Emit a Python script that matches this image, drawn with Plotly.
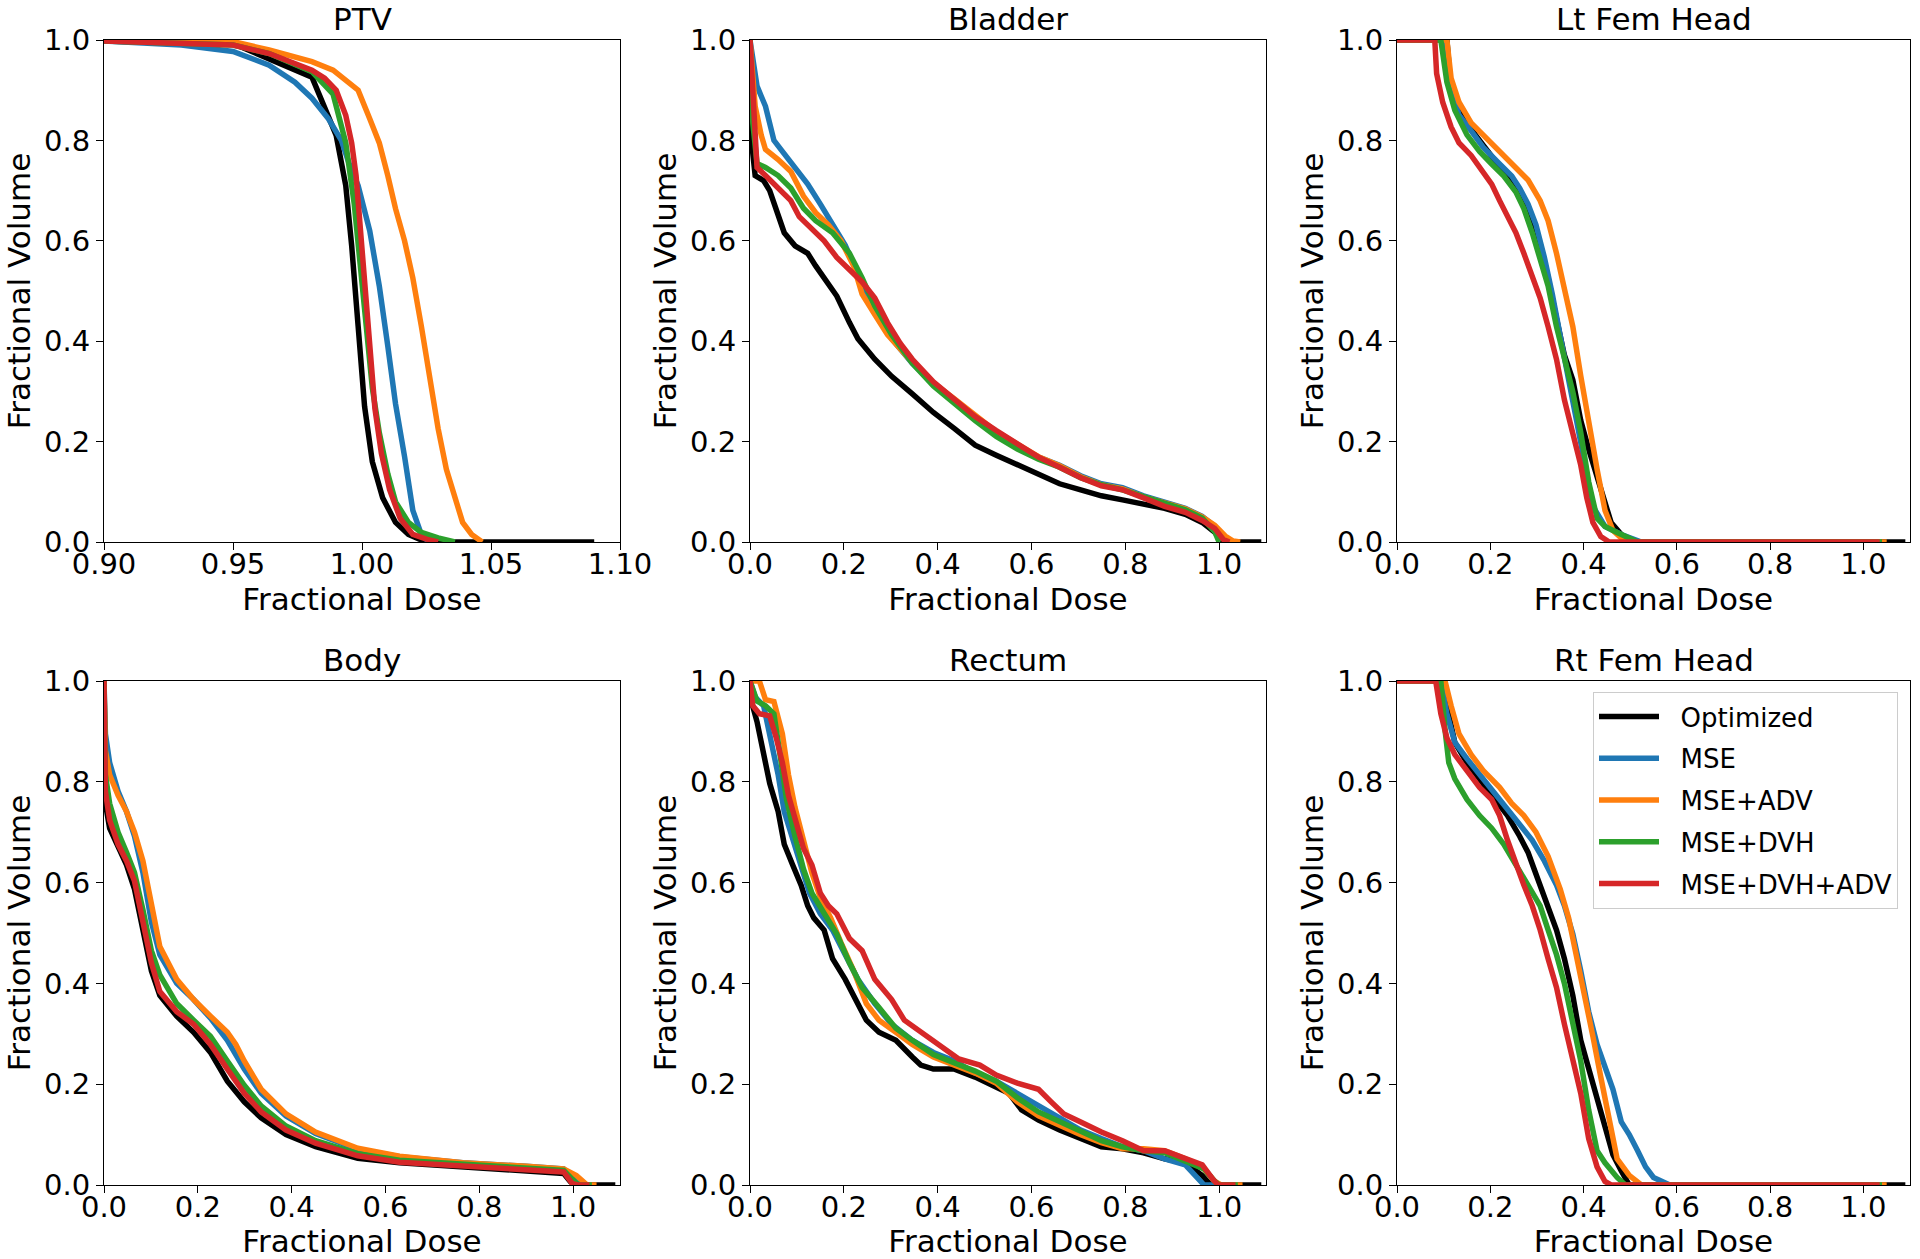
import plotly.graph_objects as go
from plotly.subplots import make_subplots

# ---- series names / colours
names = ["Optimized", "MSE", "MSE+ADV", "MSE+DVH", "MSE+DVH+ADV"]
colors = ["#000000", "#1f77b4", "#ff7f0e", "#2ca02c", "#d62728"]
organs = ["PTV", "Bladder", "Lt Fem Head", "Body", "Rectum", "Rt Fem Head"]

# ---- PTV
ptv_opt_x = [0.90, 0.95, 0.9806, 0.990, 0.9937, 0.996, 0.9985, 1.001, 1.004, 1.008, 1.013, 1.018, 1.023, 1.03, 1.09]
ptv_opt_y = [0.998, 0.993, 0.926, 0.81, 0.71, 0.59, 0.43, 0.27, 0.16, 0.088, 0.039, 0.015, 0.004, 0.0, 0.0]
ptv_mse_x = [0.90, 0.93, 0.95, 0.964, 0.974, 0.9806, 0.987, 0.992, 0.995, 0.9985, 1.003, 1.0067, 1.010, 1.013, 1.0165, 1.0197, 1.023, 1.026]
ptv_mse_y = [0.998, 0.99, 0.977, 0.95, 0.916, 0.884, 0.843, 0.80, 0.754, 0.71, 0.62, 0.51, 0.39, 0.275, 0.17, 0.063, 0.015, 0.0]
ptv_adv_x = [0.90, 0.95, 0.964, 0.9806, 0.9888, 0.995, 0.9985, 1.003, 1.0067, 1.010, 1.013, 1.0165, 1.0197, 1.023, 1.026, 1.0295, 1.0327, 1.036, 1.039, 1.0425, 1.0466]
ptv_adv_y = [1.0, 0.997, 0.98, 0.957, 0.94, 0.916, 0.90, 0.843, 0.795, 0.73, 0.664, 0.60, 0.526, 0.43, 0.33, 0.226, 0.145, 0.088, 0.039, 0.015, 0.0]
ptv_dvh_x = [0.90, 0.95, 0.964, 0.9806, 0.9888, 0.9937, 0.997, 0.9993, 1.0018, 1.004, 1.0067, 1.010, 1.013, 1.018, 1.023, 1.0295, 1.036]
ptv_dvh_y = [0.998, 0.99, 0.973, 0.937, 0.892, 0.795, 0.673, 0.55, 0.41, 0.307, 0.218, 0.136, 0.08, 0.039, 0.019, 0.008, 0.0]
ptv_dvhadv_x = [0.90, 0.95, 0.964, 0.9806, 0.9855, 0.990, 0.9937, 0.996, 0.9977, 0.9993, 1.001, 1.0026, 1.005, 1.0075, 1.0107, 1.0148, 1.0197, 1.026, 1.0295]
ptv_dvhadv_y = [0.998, 0.99, 0.973, 0.94, 0.924, 0.90, 0.85, 0.795, 0.73, 0.624, 0.51, 0.39, 0.266, 0.177, 0.104, 0.047, 0.015, 0.004, 0.0]

# ---- Bladder
bla_opt_x = [0, 0.003, 0.011, 0.029, 0.042, 0.06, 0.073, 0.096, 0.123, 0.14, 0.163, 0.185, 0.212, 0.23, 0.266, 0.302, 0.346, 0.391, 0.436, 0.48, 0.525, 0.57, 0.615, 0.66, 0.705, 0.749, 0.794, 0.839, 0.884, 0.928, 0.964, 0.991, 1.009, 1.02, 1.09]
bla_opt_y = [1.0, 0.80, 0.73, 0.72, 0.70, 0.65, 0.616, 0.59, 0.575, 0.55, 0.518, 0.49, 0.437, 0.405, 0.364, 0.33, 0.295, 0.258, 0.226, 0.193, 0.173, 0.153, 0.136, 0.116, 0.104, 0.092, 0.084, 0.076, 0.067, 0.055, 0.039, 0.019, 0.002, 0.0, 0.0]
bla_mse_x = [0, 0.015, 0.033, 0.051, 0.069, 0.096, 0.123, 0.15, 0.176, 0.203, 0.23, 0.252, 0.275, 0.302, 0.346, 0.391, 0.436, 0.48, 0.525, 0.57, 0.615, 0.66, 0.705, 0.749, 0.794, 0.839, 0.884, 0.928, 0.964, 0.991, 1.013, 1.027]
bla_mse_y = [1.0, 0.908, 0.868, 0.80, 0.778, 0.746, 0.713, 0.673, 0.632, 0.591, 0.535, 0.486, 0.445, 0.405, 0.356, 0.315, 0.283, 0.25, 0.218, 0.193, 0.169, 0.153, 0.132, 0.116, 0.108, 0.092, 0.08, 0.067, 0.051, 0.031, 0.006, 0.0]
bla_adv_x = [0, 0.011, 0.024, 0.033, 0.06, 0.087, 0.114, 0.14, 0.167, 0.194, 0.221, 0.239, 0.266, 0.293, 0.346, 0.391, 0.436, 0.48, 0.525, 0.57, 0.615, 0.66, 0.705, 0.749, 0.794, 0.839, 0.884, 0.928, 0.964, 0.991, 1.013, 1.03, 1.045]
bla_adv_y = [1.0, 0.868, 0.81, 0.782, 0.762, 0.738, 0.689, 0.656, 0.632, 0.60, 0.55, 0.494, 0.453, 0.413, 0.358, 0.317, 0.285, 0.252, 0.22, 0.195, 0.17, 0.152, 0.13, 0.114, 0.106, 0.09, 0.078, 0.066, 0.05, 0.033, 0.012, 0.002, 0.0]
bla_dvh_x = [0, 0.006, 0.015, 0.033, 0.06, 0.087, 0.114, 0.14, 0.176, 0.212, 0.239, 0.266, 0.302, 0.346, 0.391, 0.436, 0.48, 0.525, 0.57, 0.615, 0.66, 0.705, 0.749, 0.794, 0.839, 0.884, 0.928, 0.964, 0.991, 1.0]
bla_dvh_y = [1.0, 0.835, 0.754, 0.746, 0.73, 0.705, 0.665, 0.64, 0.616, 0.575, 0.526, 0.47, 0.413, 0.356, 0.311, 0.275, 0.242, 0.21, 0.185, 0.165, 0.149, 0.128, 0.114, 0.104, 0.09, 0.078, 0.064, 0.048, 0.02, 0.0]
bla_dvhadv_x = [0, 0.004, 0.015, 0.033, 0.06, 0.087, 0.105, 0.132, 0.158, 0.185, 0.212, 0.239, 0.266, 0.293, 0.32, 0.346, 0.391, 0.436, 0.48, 0.525, 0.57, 0.615, 0.66, 0.705, 0.749, 0.794, 0.839, 0.884, 0.928, 0.964, 0.991, 1.009, 1.022]
bla_dvhadv_y = [1.0, 0.916, 0.746, 0.73, 0.705, 0.68, 0.648, 0.624, 0.60, 0.567, 0.543, 0.518, 0.486, 0.437, 0.396, 0.364, 0.319, 0.283, 0.25, 0.222, 0.197, 0.169, 0.149, 0.128, 0.112, 0.104, 0.088, 0.071, 0.059, 0.043, 0.027, 0.005, 0.0]

# ---- Lt Fem Head
lfh_opt_x = [0, 0.107, 0.116, 0.142, 0.168, 0.203, 0.229, 0.255, 0.272, 0.29, 0.307, 0.324, 0.342, 0.359, 0.377, 0.394, 0.411, 0.429, 0.446, 0.459, 0.481, 0.507, 1.09]
lfh_opt_y = [1.0, 1.0, 0.90, 0.851, 0.811, 0.77, 0.738, 0.705, 0.68, 0.64, 0.591, 0.526, 0.445, 0.372, 0.323, 0.242, 0.185, 0.128, 0.08, 0.039, 0.015, 0.0, 0.0]
lfh_mse_x = [0, 0.098, 0.111, 0.133, 0.159, 0.185, 0.22, 0.246, 0.263, 0.281, 0.298, 0.316, 0.333, 0.35, 0.368, 0.385, 0.403, 0.42, 0.446, 0.481, 0.524, 1.04]
lfh_mse_y = [1.0, 1.0, 0.916, 0.851, 0.819, 0.786, 0.753, 0.729, 0.705, 0.673, 0.632, 0.567, 0.494, 0.405, 0.323, 0.242, 0.153, 0.071, 0.031, 0.015, 0.0, 0.0]
lfh_adv_x = [0, 0.107, 0.116, 0.133, 0.159, 0.185, 0.22, 0.255, 0.281, 0.307, 0.324, 0.342, 0.359, 0.377, 0.394, 0.411, 0.429, 0.446, 0.463, 0.49, 1.05]
lfh_adv_y = [1.0, 1.0, 0.924, 0.876, 0.835, 0.811, 0.778, 0.746, 0.721, 0.68, 0.64, 0.575, 0.502, 0.429, 0.331, 0.234, 0.145, 0.063, 0.023, 0.0, 0.0]
lfh_dvh_x = [0, 0.094, 0.107, 0.124, 0.15, 0.177, 0.203, 0.229, 0.255, 0.272, 0.29, 0.307, 0.324, 0.342, 0.359, 0.377, 0.394, 0.411, 0.429, 0.446, 0.472, 0.498, 0.516, 1.04]
lfh_dvh_y = [1.0, 1.0, 0.916, 0.86, 0.811, 0.778, 0.753, 0.729, 0.697, 0.664, 0.616, 0.567, 0.51, 0.429, 0.364, 0.299, 0.218, 0.12, 0.047, 0.031, 0.019, 0.008, 0.0, 0.0]
lfh_dvhadv_x = [0, 0.081, 0.085, 0.098, 0.116, 0.133, 0.159, 0.185, 0.203, 0.22, 0.237, 0.255, 0.272, 0.29, 0.307, 0.324, 0.342, 0.359, 0.377, 0.394, 0.407, 0.42, 0.437, 0.455, 1.035]
lfh_dvhadv_y = [1.0, 1.0, 0.933, 0.876, 0.827, 0.795, 0.77, 0.738, 0.713, 0.68, 0.648, 0.616, 0.575, 0.526, 0.486, 0.429, 0.364, 0.283, 0.218, 0.153, 0.088, 0.039, 0.011, 0.0, 0.0]

# ---- Body
bod_opt_x = [0, 0.003, 0.012, 0.03, 0.048, 0.065, 0.083, 0.101, 0.119, 0.155, 0.191, 0.227, 0.263, 0.299, 0.335, 0.388, 0.451, 0.541, 0.63, 0.765, 0.9, 0.98, 0.994, 1.003, 1.09]
bod_opt_y = [1.0, 0.757, 0.708, 0.668, 0.635, 0.587, 0.506, 0.425, 0.376, 0.335, 0.303, 0.263, 0.206, 0.165, 0.133, 0.10, 0.076, 0.053, 0.044, 0.036, 0.029, 0.023, 0.007, 0.0, 0.0]
bod_mse_x = [0, 0.003, 0.012, 0.03, 0.048, 0.065, 0.083, 0.101, 0.119, 0.155, 0.191, 0.227, 0.263, 0.299, 0.335, 0.388, 0.451, 0.541, 0.63, 0.765, 0.9, 0.98, 1.003, 1.02, 1.04]
bod_mse_y = [1.0, 0.895, 0.838, 0.781, 0.741, 0.692, 0.62, 0.522, 0.457, 0.40, 0.368, 0.331, 0.287, 0.23, 0.182, 0.137, 0.102, 0.071, 0.056, 0.044, 0.037, 0.032, 0.011, 0.0, 0.0]
bod_adv_x = [0, 0.003, 0.012, 0.03, 0.048, 0.065, 0.083, 0.101, 0.119, 0.155, 0.191, 0.227, 0.263, 0.281, 0.299, 0.335, 0.388, 0.451, 0.541, 0.63, 0.765, 0.9, 0.98, 1.007, 1.03, 1.05]
bod_adv_y = [1.0, 0.862, 0.814, 0.773, 0.741, 0.70, 0.643, 0.554, 0.473, 0.408, 0.368, 0.335, 0.303, 0.279, 0.246, 0.19, 0.141, 0.105, 0.073, 0.057, 0.044, 0.037, 0.032, 0.019, 0.0, 0.0]
bod_dvh_x = [0, 0.003, 0.012, 0.03, 0.048, 0.065, 0.083, 0.101, 0.119, 0.155, 0.191, 0.227, 0.263, 0.299, 0.335, 0.388, 0.451, 0.541, 0.63, 0.765, 0.9, 0.98, 1.007, 1.016, 1.04]
bod_dvh_y = [1.0, 0.814, 0.757, 0.70, 0.66, 0.62, 0.546, 0.465, 0.417, 0.36, 0.327, 0.295, 0.246, 0.198, 0.157, 0.117, 0.088, 0.062, 0.049, 0.041, 0.034, 0.029, 0.003, 0.0, 0.0]
bod_dvhadv_x = [0, 0.003, 0.012, 0.03, 0.048, 0.065, 0.083, 0.101, 0.119, 0.155, 0.191, 0.227, 0.263, 0.299, 0.335, 0.388, 0.451, 0.541, 0.63, 0.765, 0.9, 0.98, 0.998, 1.01, 1.035]
bod_dvhadv_y = [1.0, 0.781, 0.724, 0.676, 0.643, 0.603, 0.522, 0.441, 0.384, 0.344, 0.319, 0.279, 0.23, 0.182, 0.145, 0.109, 0.083, 0.058, 0.045, 0.037, 0.031, 0.026, 0.003, 0.0, 0.0]

# ---- Rectum
rec_opt_x = [0, 0.003, 0.015, 0.029, 0.042, 0.06, 0.073, 0.091, 0.109, 0.123, 0.136, 0.158, 0.176, 0.203, 0.221, 0.248, 0.275, 0.311, 0.346, 0.364, 0.391, 0.436, 0.48, 0.525, 0.552, 0.579, 0.615, 0.66, 0.705, 0.749, 0.794, 0.839, 0.884, 0.928, 0.964, 0.982, 1.09]
rec_opt_y = [1.0, 0.96, 0.919, 0.854, 0.797, 0.741, 0.676, 0.635, 0.595, 0.554, 0.53, 0.506, 0.449, 0.408, 0.376, 0.327, 0.303, 0.287, 0.254, 0.238, 0.23, 0.23, 0.214, 0.194, 0.182, 0.149, 0.129, 0.109, 0.092, 0.076, 0.072, 0.064, 0.052, 0.044, 0.019, 0.0, 0.0]
rec_mse_x = [0, 0.011, 0.029, 0.047, 0.06, 0.073, 0.091, 0.109, 0.127, 0.15, 0.176, 0.203, 0.23, 0.266, 0.302, 0.346, 0.391, 0.436, 0.48, 0.525, 0.57, 0.615, 0.66, 0.705, 0.749, 0.794, 0.839, 0.884, 0.928, 0.955, 0.968, 1.04]
rec_mse_y = [1.0, 0.968, 0.951, 0.878, 0.814, 0.741, 0.684, 0.627, 0.579, 0.538, 0.506, 0.457, 0.408, 0.36, 0.319, 0.287, 0.263, 0.246, 0.222, 0.206, 0.182, 0.157, 0.133, 0.109, 0.092, 0.076, 0.068, 0.052, 0.04, 0.011, 0.0, 0.0]
rec_adv_x = [0, 0.02, 0.033, 0.051, 0.069, 0.082, 0.096, 0.114, 0.132, 0.15, 0.172, 0.194, 0.221, 0.248, 0.275, 0.311, 0.346, 0.391, 0.436, 0.48, 0.525, 0.57, 0.615, 0.66, 0.705, 0.749, 0.794, 0.839, 0.884, 0.928, 0.964, 0.991, 1.004, 1.05]
rec_adv_y = [1.0, 1.0, 0.963, 0.959, 0.895, 0.814, 0.749, 0.684, 0.619, 0.57, 0.53, 0.481, 0.425, 0.36, 0.327, 0.303, 0.279, 0.254, 0.238, 0.222, 0.202, 0.165, 0.137, 0.117, 0.10, 0.084, 0.072, 0.072, 0.068, 0.052, 0.036, 0.007, 0.0, 0.0]
rec_dvh_x = [0, 0.015, 0.033, 0.051, 0.064, 0.078, 0.096, 0.114, 0.132, 0.158, 0.185, 0.212, 0.239, 0.275, 0.311, 0.346, 0.391, 0.436, 0.48, 0.525, 0.57, 0.615, 0.66, 0.705, 0.749, 0.794, 0.839, 0.884, 0.928, 0.968, 0.991, 1.0, 1.04]
rec_dvh_y = [1.0, 0.96, 0.951, 0.935, 0.854, 0.765, 0.692, 0.627, 0.579, 0.538, 0.498, 0.441, 0.392, 0.352, 0.311, 0.287, 0.259, 0.242, 0.226, 0.206, 0.173, 0.145, 0.125, 0.105, 0.088, 0.076, 0.068, 0.064, 0.048, 0.032, 0.007, 0.0, 0.0]
rec_dvhadv_x = [0, 0.006, 0.02, 0.042, 0.056, 0.069, 0.082, 0.096, 0.114, 0.132, 0.15, 0.167, 0.185, 0.212, 0.239, 0.266, 0.302, 0.329, 0.364, 0.40, 0.445, 0.49, 0.525, 0.57, 0.615, 0.642, 0.669, 0.705, 0.749, 0.794, 0.839, 0.884, 0.928, 0.964, 0.987, 0.998, 1.035]
rec_dvhadv_y = [1.0, 0.951, 0.935, 0.931, 0.887, 0.838, 0.773, 0.724, 0.668, 0.635, 0.579, 0.554, 0.538, 0.489, 0.465, 0.408, 0.368, 0.327, 0.303, 0.279, 0.25, 0.238, 0.218, 0.202, 0.19, 0.165, 0.141, 0.125, 0.105, 0.088, 0.068, 0.068, 0.052, 0.04, 0.011, 0.0, 0.0]

# ---- Rt Fem Head
rfh_opt_x = [0, 0.098, 0.107, 0.124, 0.15, 0.177, 0.203, 0.237, 0.263, 0.281, 0.294, 0.307, 0.324, 0.342, 0.359, 0.377, 0.394, 0.411, 0.429, 0.446, 0.463, 0.481, 0.498, 1.09]
rfh_opt_y = [1.0, 1.0, 0.951, 0.878, 0.838, 0.806, 0.773, 0.733, 0.692, 0.66, 0.627, 0.595, 0.554, 0.506, 0.449, 0.376, 0.287, 0.23, 0.173, 0.117, 0.06, 0.028, 0.0, 0.0]
rfh_mse_x = [0, 0.094, 0.107, 0.124, 0.15, 0.185, 0.22, 0.255, 0.29, 0.316, 0.342, 0.359, 0.377, 0.394, 0.411, 0.429, 0.446, 0.463, 0.481, 0.498, 0.516, 0.533, 0.55, 0.585, 1.04]
rfh_mse_y = [1.0, 1.0, 0.935, 0.878, 0.846, 0.806, 0.765, 0.724, 0.684, 0.643, 0.595, 0.554, 0.498, 0.425, 0.344, 0.279, 0.238, 0.19, 0.125, 0.10, 0.068, 0.036, 0.015, 0.0, 0.0]
rfh_adv_x = [0, 0.103, 0.116, 0.133, 0.159, 0.185, 0.22, 0.246, 0.272, 0.298, 0.324, 0.35, 0.368, 0.385, 0.403, 0.42, 0.437, 0.455, 0.472, 0.498, 0.524, 1.05]
rfh_adv_y = [1.0, 1.0, 0.951, 0.895, 0.854, 0.822, 0.789, 0.757, 0.733, 0.70, 0.652, 0.587, 0.53, 0.457, 0.376, 0.295, 0.214, 0.125, 0.052, 0.019, 0.0, 0.0]
rfh_dvh_x = [0, 0.094, 0.103, 0.111, 0.124, 0.15, 0.177, 0.203, 0.229, 0.255, 0.281, 0.307, 0.324, 0.342, 0.359, 0.377, 0.394, 0.411, 0.429, 0.446, 0.472, 0.49, 1.04]
rfh_dvh_y = [1.0, 1.0, 0.903, 0.838, 0.806, 0.765, 0.733, 0.708, 0.676, 0.635, 0.595, 0.554, 0.506, 0.457, 0.40, 0.327, 0.246, 0.149, 0.068, 0.044, 0.015, 0.0, 0.0]
rfh_dvhadv_x = [0, 0.083, 0.094, 0.107, 0.124, 0.15, 0.177, 0.203, 0.22, 0.237, 0.255, 0.272, 0.29, 0.307, 0.324, 0.342, 0.359, 0.377, 0.394, 0.411, 0.429, 0.446, 0.459, 1.035]
rfh_dvhadv_y = [1.0, 1.0, 0.935, 0.887, 0.854, 0.822, 0.789, 0.765, 0.733, 0.684, 0.635, 0.595, 0.554, 0.506, 0.449, 0.392, 0.319, 0.254, 0.182, 0.092, 0.036, 0.007, 0.0, 0.0]

panels = [
    [(ptv_opt_x, ptv_opt_y), (ptv_mse_x, ptv_mse_y), (ptv_adv_x, ptv_adv_y), (ptv_dvh_x, ptv_dvh_y), (ptv_dvhadv_x, ptv_dvhadv_y)],
    [(bla_opt_x, bla_opt_y), (bla_mse_x, bla_mse_y), (bla_adv_x, bla_adv_y), (bla_dvh_x, bla_dvh_y), (bla_dvhadv_x, bla_dvhadv_y)],
    [(lfh_opt_x, lfh_opt_y), (lfh_mse_x, lfh_mse_y), (lfh_adv_x, lfh_adv_y), (lfh_dvh_x, lfh_dvh_y), (lfh_dvhadv_x, lfh_dvhadv_y)],
    [(bod_opt_x, bod_opt_y), (bod_mse_x, bod_mse_y), (bod_adv_x, bod_adv_y), (bod_dvh_x, bod_dvh_y), (bod_dvhadv_x, bod_dvhadv_y)],
    [(rec_opt_x, rec_opt_y), (rec_mse_x, rec_mse_y), (rec_adv_x, rec_adv_y), (rec_dvh_x, rec_dvh_y), (rec_dvhadv_x, rec_dvhadv_y)],
    [(rfh_opt_x, rfh_opt_y), (rfh_mse_x, rfh_mse_y), (rfh_adv_x, rfh_adv_y), (rfh_dvh_x, rfh_dvh_y), (rfh_dvhadv_x, rfh_dvhadv_y)],
]

W, H = 1920, 1259
FONT = "DejaVu Sans"
FS = 31      # titles
TFS = 29     # tick labels
LFS = 26     # legend

# axes boxes in pixels (left, right) and (top, bottom)
cols_px = [(104, 620), (750, 1266), (1397, 1910)]
rows_px = [(40, 542), (681, 1185)]

fig = make_subplots(rows=2, cols=3)

for i, series in enumerate(panels):
    r, c = i // 3 + 1, i % 3 + 1
    for j, (x, y) in enumerate(series):
        fig.add_trace(go.Scatter(x=x, y=y, mode="lines", name="\u00a0\u00a0" + names[j],
                                 legendgroup=names[j],
                                 line=dict(color=colors[j], width=5.5),
                                 showlegend=(i == 5)), row=r, col=c)

    xl, xr = cols_px[c - 1]
    yt, yb = rows_px[r - 1]
    xdom = [xl / W, xr / W]
    ydom = [1 - yb / H, 1 - yt / H]
    if i == 0:
        xrange, xdt, xfmt = [0.9, 1.1], 0.05, ".2f"
    else:
        xrange, xdt, xfmt = [0, 1.1], 0.2, ".1f"
    fig.update_xaxes(domain=xdom, range=xrange, dtick=xdt, tick0=0, tickformat=xfmt,
                     showline=True, linecolor="black", linewidth=1, mirror=True,
                     ticks="outside", ticklen=7, tickcolor="black", showgrid=False,
                     zeroline=False, automargin=False, ticklabelstandoff=-11,
                     tickfont=dict(family=FONT, size=TFS, color="black"),
                     title=dict(text="Fractional Dose", standoff=3,
                                font=dict(family=FONT, size=FS, color="black")),
                     row=r, col=c)
    fig.update_yaxes(domain=ydom, range=[0, 1], dtick=0.2, tickformat=".1f",
                     showline=True, linecolor="black", linewidth=1, mirror=True,
                     ticks="outside", ticklen=7, tickcolor="black", showgrid=False,
                     zeroline=False, automargin=False,
                     tickfont=dict(family=FONT, size=TFS, color="black"),
                     title=dict(text="Fractional Volume", standoff=4,
                                font=dict(family=FONT, size=FS, color="black")),
                     row=r, col=c)
    fig.add_annotation(text=organs[i], xref="paper", yref="paper",
                       x=(xdom[0] + xdom[1]) / 2, y=ydom[1], xanchor="center",
                       yanchor="bottom", showarrow=False, yshift=1,
                       font=dict(family=FONT, size=FS, color="black"))

fig.update_layout(
    width=W, height=H, margin=dict(l=0, r=0, t=0, b=0),
    paper_bgcolor="white", plot_bgcolor="white",
    font=dict(family=FONT, size=FS, color="black"),
    legend=dict(x=1593 / W, y=1 - 692 / H, xanchor="left", yanchor="top",
                bgcolor="rgba(255,255,255,0.8)", bordercolor="#cccccc", borderwidth=1,
                itemwidth=60, font=dict(family=FONT, size=LFS, color="black"),
                tracegroupgap=5),
)

# drop the default 8px page margin so the figure fills the window
fig.write_html("out.html", config={"displayModeBar": False},
               post_script="document.body.style.margin='0px';")
